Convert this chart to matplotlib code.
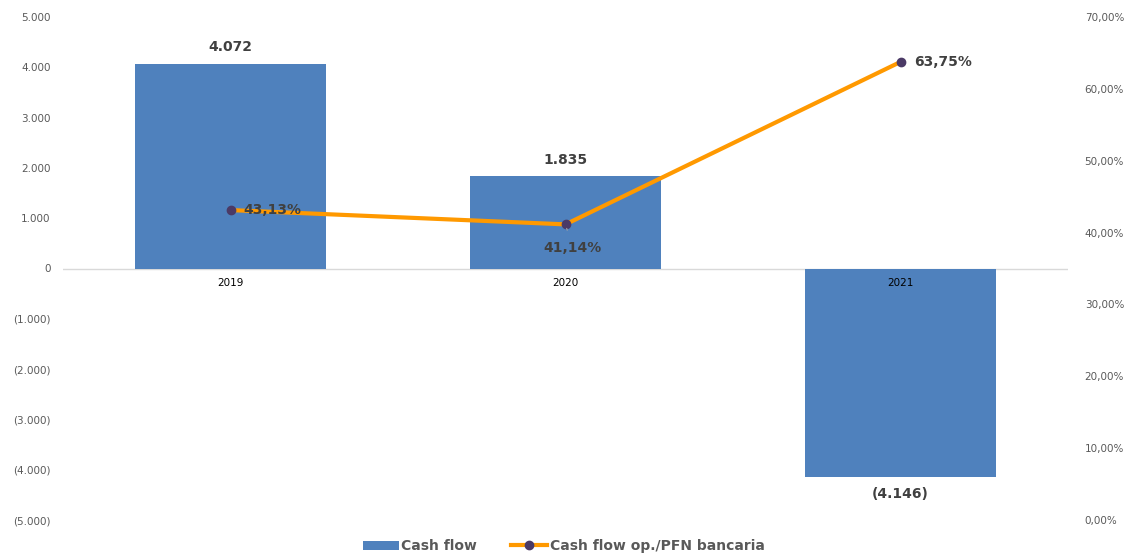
import matplotlib
matplotlib.use('Agg')
import matplotlib.pyplot as plt
from matplotlib.lines import Line2D
from matplotlib.patches import Patch

anni = ['2019', '2020', '2021']
cash_flow = [4072, 1835, -4146]
rapporto_pfn = [43.13, 41.14, 63.75]

sx_ticks = [5000, 4000, 3000, 2000, 1000, 0, -1000, -2000, -3000, -4000, -5000]
dx_ticks = [0, 10, 20, 30, 40, 50, 60, 70]

BLU = '#4F81BD'
ARANCIO = '#FF9900'
PUNTO = '#4B3A66'
GRIGIO = '#595959'
ETICHETTA = '#404040'


def fmt_migliaia(v):
    s = '{:,.0f}'.format(abs(v)).replace(',', '.')
    return '(' + s + ')' if v < 0 else s


def fmt_perc(v):
    return '{:.2f}%'.format(v).replace('.', ',')


fig = plt.figure(figsize=(11.27, 5.54), dpi=100)
ax = fig.add_axes([63 / 1127, 34 / 554, 1005 / 1127, 503 / 554])
x = list(range(len(anni)))

ax.bar(x, cash_flow, width=0.573, color=BLU, zorder=2)
ax.set_xlim(-0.5, 2.5)
ax.set_ylim(-5000, 5000)
ax.set_yticks(sx_ticks)
ax.set_yticklabels([fmt_migliaia(v) for v in sx_ticks])
ax.tick_params(axis='y', length=0, pad=9, labelsize=7.5, labelcolor=GRIGIO)
ax.set_xticks([])
for s in ax.spines.values():
    s.set_visible(False)
ax.axhline(0, color='#D9D9D9', lw=1, zorder=1)

# etichette categorie appena sotto lo zero
for i, a in zip(x, anni):
    ax.text(i, -290, a, ha='center', va='center', fontsize=7.5, color='black')

# etichette dei valori delle barre
for i, v in zip(x, cash_flow):
    off = 330 if v >= 0 else -330
    ax.text(i, v + off, fmt_migliaia(v), ha='center', va='center',
            fontsize=10, fontweight='bold', color=ETICHETTA)

ax2 = ax.twinx()
ax2.plot(x, rapporto_pfn, color=ARANCIO, lw=3, marker='o', ms=6,
         markerfacecolor=PUNTO, markeredgecolor=PUNTO, zorder=3)
ax2.set_ylim(0, 70)
ax2.set_yticks(dx_ticks)
ax2.set_yticklabels([fmt_perc(v) for v in dx_ticks])
ax2.tick_params(axis='y', length=0, pad=12, labelsize=7.5, labelcolor=GRIGIO)
for s in ax2.spines.values():
    s.set_visible(False)

ax2.annotate(fmt_perc(rapporto_pfn[0]), (x[0], rapporto_pfn[0]),
             xytext=(9, 0), textcoords='offset points', ha='left', va='center',
             fontsize=10, fontweight='bold', color=ETICHETTA, zorder=4)
ax2.annotate(fmt_perc(rapporto_pfn[1]), (x[1], rapporto_pfn[1]),
             xytext=(5, -17), textcoords='offset points', ha='center', va='center',
             fontsize=10, fontweight='bold', color=ETICHETTA,
             arrowprops=dict(arrowstyle='-', color='#A6A6A6', lw=0.8,
                             shrinkA=6, shrinkB=3))
ax2.annotate(fmt_perc(rapporto_pfn[2]), (x[2], rapporto_pfn[2]),
             xytext=(10, 0), textcoords='offset points', ha='left', va='center',
             fontsize=10, fontweight='bold', color=ETICHETTA)

handles = [Patch(facecolor=BLU, label='Cash flow'),
           Line2D([0], [0], color=ARANCIO, lw=3, marker='o', ms=6,
                  markerfacecolor=PUNTO, markeredgecolor=PUNTO,
                  label='Cash flow op./PFN bancaria')]
leg = fig.legend(handles=handles, loc='center', bbox_to_anchor=(0.5, 8 / 554),
                 ncol=2, frameon=False, fontsize=10, handlelength=2.6,
                 handleheight=0.6, columnspacing=2.4, handletextpad=0.2)
for t in leg.get_texts():
    t.set_color(GRIGIO)
    t.set_fontweight('bold')

fig.savefig('out.png', dpi=100, facecolor='white')
